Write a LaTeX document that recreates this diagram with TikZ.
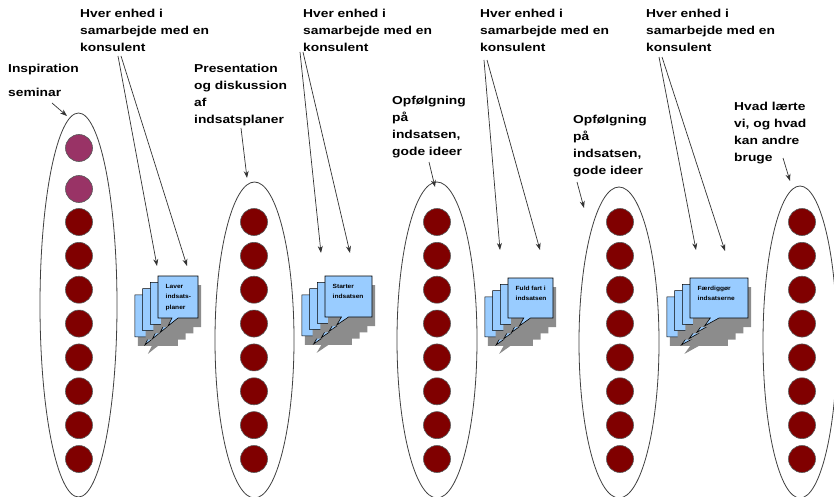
\documentclass[tikz,border=0pt]{standalone}
\usepackage{fontspec}
\setmainfont{Liberation Sans}
\newfontfamily\lblfont[FakeStretch=1.2]{Liberation Sans}
\newfontfamily\cfont[FakeStretch=1.1]{Liberation Sans}
\usetikzlibrary{shapes.geometric,arrows.meta}
\definecolor{dred}{HTML}{800000}
\definecolor{plum}{HTML}{993366}
\definecolor{cblue}{HTML}{99CCFF}
\definecolor{shad}{HTML}{8C8C8C}
\newcommand\lns[1]{\begin{tabular}[t]{@{}l@{}}#1\end{tabular}}
\newcommand\cpath[4]{(#1,#2) -- (#1+#3,#2) -- (#1+#3,#2+#4) -- (#1+0.5*#3,#2+#4) -- (#1+0.25*#3,#2+#4+8) -- (#1+0.35*#3,#2+#4) -- (#1,#2+#4) -- cycle}
% #1 x, #2 y, #3 w, #4 h, #5 name, #6 text
\newcommand\callstack[6]{%
  \foreach \i in {3,2,1,0}{%
    \pgfmathsetmacro\ox{#1-7.7*\i}%
    \pgfmathsetmacro\oy{#2+6.3*\i}%
    \fill[shad] \cpath{\ox+3}{\oy+9}{#3}{#4};
    \filldraw[cbox] \cpath{\ox}{\oy}{#3}{#4};
  }
  \node[inner sep=0pt, minimum width=#3, minimum height=#4, anchor=north west] (#5) at (#1,#2) {};
  \node[ctxt] (#5t) at (#1+7.5,#2+12) {\lns{#6}};
}
\tikzset{
  lbl/.style={anchor=base west, inner sep=0pt, font=\lblfont\bfseries\fontsize{11.5}{17}\selectfont},
  ctxt/.style={anchor=base west, inner sep=0pt, font=\cfont\bfseries\fontsize{6}{10.5}\selectfont},
  ell/.style={draw=black!75, line width=0.8pt, ellipse, inner sep=0pt},
  dot/.style={circle, draw=black!65, line width=0.6pt, fill=dred, minimum size=27pt, inner sep=0pt},
  pdot/.style={dot, fill=plum},
  cbox/.style={fill=cblue, draw=black, line width=0.6pt, line join=miter},
  arr/.style={draw=black!80, line width=0.7pt, -{Stealth[length=7pt,width=5pt]}},
}
\begin{document}
\begin{tikzpicture}[x=1pt,y=-1pt]
\useasboundingbox[fill=white] (0,0) rectangle (834,497);

% ellipses
\node[ell, minimum width=77pt, minimum height=384pt] (e1) at (78.5,305) {};
\node[ell, minimum width=79pt, minimum height=316pt] (e2) at (254.5,340) {};
\node[ell, minimum width=80pt, minimum height=316pt] (e3) at (437,340) {};
\node[ell, minimum width=80pt, minimum height=311pt] (e4) at (619,342.5) {};
\node[ell, minimum width=74pt, minimum height=312pt] (e5) at (800,342) {};

% circles
\node[pdot] (a1) at (79,148) {};
\node[pdot] (a2) at (79,189) {};
\foreach \k/\cx in {1/79,2/254,3/437,4/620,5/802}{
  \foreach \j in {0,...,7}{
    \node[dot] (d\k-\j) at (\cx,222+33.857*\j) {};
  }
}

% callout stacks
\callstack{158}{276}{40}{42}{c1}{Laver\\indsats-\\planer}
\callstack{325}{276}{47}{41}{c2}{Starter\\indsatsen}
\callstack{508}{278}{45}{40}{c3}{Fuld fart i\\indsatsen}
\callstack{690}{278}{58}{40}{c4}{Færdiggør\\indsatserne}

% labels
\node[lbl] (h1) at (80,18) {\lns{Hver enhed i\\samarbejde med en\\konsulent}};
\node[lbl] (h2) at (303,18) {\lns{Hver enhed i\\samarbejde med en\\konsulent}};
\node[lbl] (h3) at (480,18) {\lns{Hver enhed i\\samarbejde med en\\konsulent}};
\node[lbl] (h4) at (646,18) {\lns{Hver enhed i\\samarbejde med en\\konsulent}};
\node[lbl] (insp) at (8,73) {Inspiration};
\node[lbl] (sem) at (8,97) {seminar};
\node[lbl] (pres) at (194,73) {\lns{Presentation\\og diskussion\\af\\indsatsplaner}};
\node[lbl] (op1) at (392,105) {\lns{Opfølgning\\på\\indsatsen,\\gode ideer}};
\node[lbl] (op2) at (573,124) {\lns{Opfølgning\\på\\indsatsen,\\gode ideer}};
\node[lbl] (hvad) at (734,111) {\lns{Hvad lærte\\vi, og hvad\\kan andre\\bruge}};

% arrow coordinates
\coordinate (s0) at (52,103);  \coordinate (t0) at (67,116);
\coordinate (s1) at (241,128); \coordinate (t1) at (247,178);
\coordinate (s2) at (429,162); \coordinate (t2) at (435,187);
\coordinate (s3) at (577,182); \coordinate (t3) at (584,208);
\coordinate (s4) at (783,158); \coordinate (t4) at (790,181);
\draw[arr] (s0) -- (t0);
\draw[arr] (s1) -- (t1);
\draw[arr] (s2) -- (t2);
\draw[arr] (s3) -- (t3);
\draw[arr] (s4) -- (t4);

\coordinate (g1a) at (118,56); \coordinate (g1b) at (121,56);
\coordinate (g1x) at (157,266); \coordinate (g1y) at (187,266);
\coordinate (g2a) at (300,52); \coordinate (g2b) at (303,52);
\coordinate (g2x) at (321,253); \coordinate (g2y) at (350,253);
\coordinate (g3a) at (484,60); \coordinate (g3b) at (487,60);
\coordinate (g3x) at (500,250); \coordinate (g3y) at (540,250);
\coordinate (g4a) at (659,57); \coordinate (g4b) at (662,57);
\coordinate (g4x) at (696,250); \coordinate (g4y) at (725,251);
\foreach \g in {1,2,3,4}{
  \draw[arr] (g\g a) -- (g\g x);
  \draw[arr] (g\g b) -- (g\g y);
}
\end{tikzpicture}
\end{document}
